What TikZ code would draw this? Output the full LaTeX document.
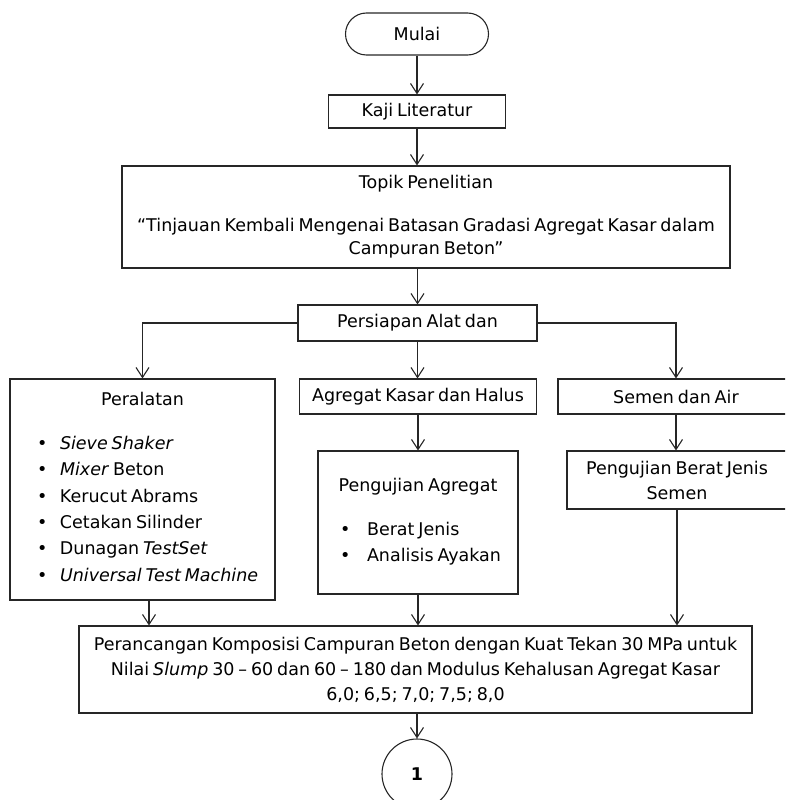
\documentclass[tikz,border=0pt]{standalone}
\usepackage{fontspec}
\setmainfont{DejaVu Sans}[WordSpace=0.7]
\usepackage{tikz}
\usetikzlibrary{arrows.meta}
\newcommand{\butir}[1][23pt]{\makebox[#1][l]{\textbullet}}

\begin{document}
\begin{tikzpicture}[x=1pt,y=-1pt,
  font=\fontsize{17.5}{25}\selectfont,
  line width=1.1pt,
  box/.style={draw=black!85,rectangle,align=center,inner sep=0pt},
  pil/.style={draw=black!85,-{Straight Barb[length=10pt,width=13pt]}}]

\useasboundingbox (0,0) rectangle (785,800);
\clip (0,0) rectangle (785,800);

% alur utama
\node[box,rounded corners=21pt,minimum width=143pt,minimum height=42pt] (mulai) at (417,34) {Mulai};
\node[box,minimum width=177pt,minimum height=33pt] (kaji) at (417,111.5) {Kaji Literatur};
\node[box,minimum width=608pt,minimum height=102pt,font=\fontsize{17.5}{23}\selectfont] (topik) at (426,217)
  {Topik Penelitian\\[20pt]“Tinjauan Kembali Mengenai Batasan Gradasi Agregat Kasar dalam\\Campuran Beton”};
\node[box,minimum width=239pt,minimum height=36pt] (persiapan) at (417.5,323) {Persiapan Alat dan};

% tiga cabang
\node[box] (peralatan) at (142.5,489.5) {\parbox[c][221pt][t]{265pt}{%
  \fontsize{17.5}{26.4}\selectfont
  \vspace*{13pt}\centering Peralatan\par\vspace{17.6pt}
  \raggedright\leftskip=27pt
  \butir\textit{Sieve Shaker}\par
  \butir\textit{Mixer} Beton\par
  \butir Kerucut Abrams\par
  \butir Cetakan Silinder\par
  \butir Dunagan \textit{TestSet}\par
  \butir\textit{Universal Test Machine}\par}};
\node[box,minimum width=237pt,minimum height=35pt] (agregat) at (418,396.5) {Agregat Kasar dan Halus};
\node[box,minimum width=236pt,minimum height=35pt] (semen) at (676,396.5) {Semen dan Air};
\node[box] (ujiagregat) at (418,522.5) {\parbox[c][143pt][t]{200pt}{%
  \fontsize{17.5}{26.4}\selectfont
  \vspace*{27pt}\centering Pengujian Agregat\par\vspace{17.6pt}
  \raggedright\leftskip=22pt
  \butir[27pt]Berat Jenis\par
  \butir[27pt]Analisis Ayakan\par}};
\node[box,minimum width=220pt,minimum height=58pt] (ujisemen) at (677,480) {Pengujian Berat Jenis\\Semen};

% perancangan
\node[box,minimum width=673pt,minimum height=87pt] (rancang) at (415.5,669.5)
  {Perancangan Komposisi Campuran Beton dengan Kuat Tekan 30 MPa untuk\\
   Nilai \textit{Slump} 30 – 60 dan 60 – 180 dan Modulus Kehalusan Agregat Kasar\\
   6,0; 6,5; 7,0; 7,5; 8,0};
\node[box,circle,minimum size=70pt,font=\fontsize{17.5}{25}\selectfont\bfseries] (sambung) at (417,774) {1};

\draw[pil] (mulai) -- (kaji);
\draw[pil] (kaji.south) -- (kaji.south |- topik.north);
\draw[pil] (topik.south -| persiapan.north) -- (persiapan.north);
\draw[pil] (persiapan.west) -| (peralatan.north);
\draw[pil] (persiapan.south) -- (persiapan.south |- agregat.north);
\draw[pil] (persiapan.east) -| (semen.north);
\draw[pil] (agregat.south) -- (agregat.south |- ujiagregat.north);
\draw[pil] (semen.south) -- (semen.south |- ujisemen.north);
\draw[pil] ([xshift=6.5pt]peralatan.south) -- ([xshift=6.5pt]peralatan.south |- rancang.north);
\draw[pil] (ujiagregat.south) -- (ujiagregat.south |- rancang.north);
\draw[pil] (ujisemen.south) -- (ujisemen.south |- rancang.north);
\draw[pil] (rancang.south -| sambung.north) -- (sambung.north);

\end{tikzpicture}
\end{document}
